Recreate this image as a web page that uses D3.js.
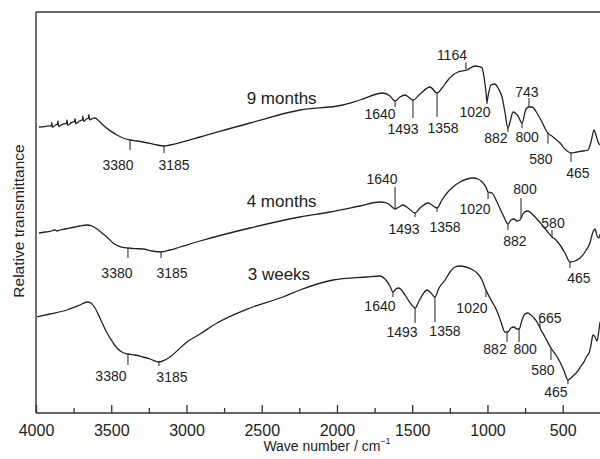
<!DOCTYPE html>
<html><head><meta charset="utf-8">
<script src="https://cdn.jsdelivr.net/npm/d3@7"></script>
<style>body{margin:0;background:#fff}svg{display:block;font-family:"Liberation Sans",Arial,Helvetica,sans-serif}</style>
</head><body><svg id="c" width="600" height="459"></svg>
<script>
// ---------- data ----------
const seriesNames = ["9 months", "4 months", "3 weeks"];
const waveTicks = [4000, 3500, 3000, 2500, 2000, 1500, 1000, 500];
const minorWaveTicks = [3750, 3250, 2750, 2250, 1750, 1250, 750];

// [wave number (cm-1), relative transmittance (a.u.)]
const nineMonths = [[3980,71.5],[3940,71.6],[3910,71.8],[3900,71.7],[3895,72.6],[3891,71.4],[3870,72],[3858,72.2],[3854,73],[3850,71.6],[3830,72.1],[3810,72.3],[3798,72.4],[3794,73.3],[3790,71.9],[3765,72.6],[3745,72.9],[3740,73.6],[3736,72.3],[3712,73],[3692,73.3],[3688,74.2],[3684,72.9],[3665,73.5],[3652,73.7],[3648,74.6],[3644,73.3],[3625,73.6],[3608,73.75],[3575,72.75],[3555,72],[3508,70.6],[3462,69.5],[3422,68.75],[3375,68.25],[3329,68],[3289,67.75],[3242,67.4],[3196,67],[3149,66.75],[3110,67],[3043,67.6],[2910,69],[2578,72.5],[2246,75.75],[1960,77],[1847,78.25],[1694,80],[1648,79.25],[1614,78],[1581,79],[1548,79.5],[1495,78.25],[1448,79.75],[1382,81.5],[1335,80],[1302,81.25],[1262,83.25],[1229,84.5],[1196,85.25],[1136,85.75],[1083,86.75],[1056,86.6],[1036,86.25],[1023,84],[1010,80.25],[1003,77.75],[996,79.25],[977,82],[950,82.25],[930,81.25],[903,79],[884,75.25],[864,71.25],[850,72.75],[830,75.25],[797,74.25],[770,72.5],[744,76],[724,76.5],[704,76.5],[671,75],[638,72.75],[604,70.25],[564,69],[518,67.5],[485,66],[445,65],[405,65.25],[365,65.5],[332,65.75],[312,67.75],[292,70.75],[279,69.5],[265,67.75],[252,67]];

const fourMonths = [[3980,45],[3940,45.25],[3907,45.4],[3874,45.75],[3860,45.5],[3841,45.75],[3807,46],[3774,46.25],[3741,46.5],[3708,46.75],[3661,47],[3628,46.75],[3595,46],[3561,45],[3522,43.75],[3488,42.5],[3442,41.6],[3389,41.25],[3342,41.1],[3289,41],[3229,40.5],[3169,40.25],[3110,40.75],[3043,41.5],[2910,43],[2578,46.25],[2246,49],[2046,50.25],[1847,51.75],[1714,52.75],[1668,52.5],[1634,51.5],[1614,51],[1588,51.5],[1561,52],[1528,51.25],[1481,50],[1448,51.25],[1395,52.5],[1369,52],[1335,51.25],[1302,53.25],[1269,55],[1229,56.5],[1183,57.75],[1136,58.5],[1096,58.75],[1063,58.5],[1036,57.75],[1010,56.5],[996,55.25],[970,55],[937,52.75],[903,50],[884,48.5],[864,47.25],[844,48.25],[824,48.5],[804,48],[784,48.25],[764,49.75],[737,50.5],[717,50.25],[697,49.5],[671,48.5],[638,47],[604,45.5],[571,44],[545,43.25],[518,42],[485,40],[452,37.75],[418,38],[385,38.75],[352,40.25],[319,42.5],[299,45.25],[285,46],[272,44.25],[259,43.75],[252,44.75]];

const threeWeeks = [[3993,24],[3907,24.75],[3794,25.75],[3708,27],[3661,27.75],[3635,27.5],[3608,26.25],[3575,23.75],[3528,20],[3495,18],[3462,16.25],[3429,15.25],[3389,14.75],[3342,14.5],[3289,14],[3242,13.5],[3183,12.75],[3143,13.25],[3110,14],[3056,15.75],[2997,17.75],[2910,19.75],[2797,22.5],[2578,26.25],[2359,29],[2246,30.75],[2026,33.25],[1800,34],[1714,34.25],[1681,33.5],[1648,31.75],[1628,30.25],[1608,31],[1588,31.25],[1561,30.25],[1535,28.75],[1508,27.25],[1481,26.25],[1455,28],[1428,29.75],[1402,30.75],[1375,30],[1349,29],[1322,31.25],[1282,33.25],[1249,35.25],[1216,36.5],[1183,36.75],[1143,36.5],[1096,35.75],[1063,34.75],[1036,33.25],[1010,30.75],[983,28.75],[957,27],[937,25.5],[910,22.75],[884,20.25],[864,20.25],[844,21.25],[824,21.5],[804,21],[790,21],[770,23.25],[751,24.75],[731,25],[711,24.5],[691,23.75],[671,22.75],[651,21.25],[618,19],[578,16.25],[545,14.5],[518,12.75],[491,10.5],[465,8.25],[445,8.75],[425,9.5],[405,10.25],[378,11.75],[359,12.75],[339,14.25],[325,15],[312,17],[299,19.5],[285,19],[272,18],[259,20.75],[252,22.75]];

// band annotations: [label, wave number where marked]
const nineMonthsBands = [["3380",3375],["3185",3149],["1640",1614],["1493",1495],["1358",1335],["1164",1143],["1020",1003],["882",864],["800",770],["743",724],["580",598],["465",445]];
const fourMonthsBands = [["3380",3389],["3185",3169],["1640",1614],["1493",1481],["1358",1335],["1020",996],["882",864],["800",777],["580",571],["465",452]];
const threeWeeksBands = [["3380",3389],["3185",3183],["1640",1628],["1493",1481],["1358",1349],["1020",1010],["882",870],["800",790],["665",651],["580",578],["465",465]];

// ---------- layout (tick length px, label dx, label dy) ----------
const nineMonthsBandLayout = [[10,-12,15],[7,10,12],[6,-15,7],[18,-10,11],[24,6,11],[-8,-14,-7],[2,-12,8],[4,-12,6],[5,5,9],[-9,-2,-6],[11,-7,15],[9,7,11]];
const fourMonthsBandLayout = [[10,-11,15],[6,11,15],[-22,-13,-8],[4,-11,12],[4,8,15],[7,-13,10],[6,7,11],[-20,4,-9],[-7,1,-7],[6,9,10]];
const threeWeeksBandLayout = [[11,-17,11],[4,13,11],[5,-13,9],[15,-13,9],[25,10,9],[7,-14,11],[10,-12,7],[13,6,7],[-7,10,-3],[12,-8,10],[4,-12,8]];
const seriesLabelPos = [[2600,77.25],[2600,51.5],[2593,33.25]];

// ---------- drawing ----------
const svg = d3.select("#c");
const W = 600, H = 459;
const x = d3.scaleLinear().domain([4000, 500]).range([36, 562.7]);
const y = d3.scaleLinear().domain([0, 100]).range([413, 13]);
const ink = "#222";

// frame
svg.append("line").attr("x1",36).attr("x2",W).attr("y1",12).attr("y2",12).attr("stroke","#333").attr("stroke-width",1.4);
svg.append("line").attr("x1",36).attr("x2",36).attr("y1",12).attr("y2",413).attr("stroke","#333").attr("stroke-width",1.4);
svg.append("line").attr("x1",36).attr("x2",W).attr("y1",413).attr("y2",413).attr("stroke","#333").attr("stroke-width",1.4);

// axes
const gx = svg.append("g").attr("transform","translate(0,413)")
  .call(d3.axisBottom(x).tickValues(waveTicks).tickFormat(d3.format("d")).tickSizeInner(-8).tickSizeOuter(0).tickPadding(12));
gx.select(".domain").remove();
gx.selectAll(".tick line").attr("stroke","#333").attr("stroke-width",1.3);
gx.selectAll(".tick text").attr("font-size",16).attr("fill","#222").attr("font-family","'Liberation Sans',Arial,sans-serif");
const gm = svg.append("g").attr("transform","translate(0,413)")
  .call(d3.axisBottom(x).tickValues(minorWaveTicks).tickFormat("").tickSizeInner(-5).tickSizeOuter(0));
gm.select(".domain").remove();
gm.selectAll(".tick line").attr("stroke","#333").attr("stroke-width",1.3);

// axis titles
const xt = svg.append("text").attr("x",327).attr("y",451).attr("text-anchor","middle")
  .attr("font-size",14).attr("fill","#222");
xt.append("tspan").text("Wave number / cm");
xt.append("tspan").attr("dy",-7).attr("font-size",9).text("−1");
svg.append("text").attr("transform","translate(24,221) rotate(-90)").attr("text-anchor","middle")
  .attr("font-size",15.5).attr("fill","#222").text("Relative transmittance");

// curves
const line = d3.line().x(d => x(d[0])).y(d => y(d[1])).curve(d3.curveMonotoneX);
const allSeries = [nineMonths, fourMonths, threeWeeks];
const allBands = [nineMonthsBands, fourMonthsBands, threeWeeksBands];
const allLayouts = [nineMonthsBandLayout, fourMonthsBandLayout, threeWeeksBandLayout];

function valueAt(s, w) {
  for (let i = 0; i < s.length - 1; i++) {
    if (s[i][0] >= w && s[i+1][0] <= w) {
      const t = (s[i][0] - w) / (s[i][0] - s[i+1][0]);
      return s[i][1] + t * (s[i+1][1] - s[i][1]);
    }
  }
  return s[s.length-1][1];
}

allSeries.forEach((s, k) => {
  svg.append("path").datum(s).attr("d", line).attr("fill","none")
    .attr("stroke", ink).attr("stroke-width", 1.3).attr("stroke-linejoin","round");
  svg.append("text").attr("x", x(seriesLabelPos[k][0])).attr("y", y(seriesLabelPos[k][1]))
    .attr("font-size", 17).attr("fill", "#222").text(seriesNames[k]);
  const g = svg.append("g");
  allBands[k].forEach((b, j) => {
    const [len, dx, dy] = allLayouts[k][j];
    const px = x(b[1]);
    const py = y(valueAt(s, b[1]));
    const ey = py + len;
    g.append("line").attr("x1", px).attr("x2", px).attr("y1", py).attr("y2", ey)
      .attr("stroke", "#333").attr("stroke-width", 1.1);
    g.append("text").attr("x", px + dx).attr("y", ey + dy + 5).attr("text-anchor","middle")
      .attr("font-size", 14).attr("fill", "#222").text(b[0]);
  });
});
</script></body></html>
